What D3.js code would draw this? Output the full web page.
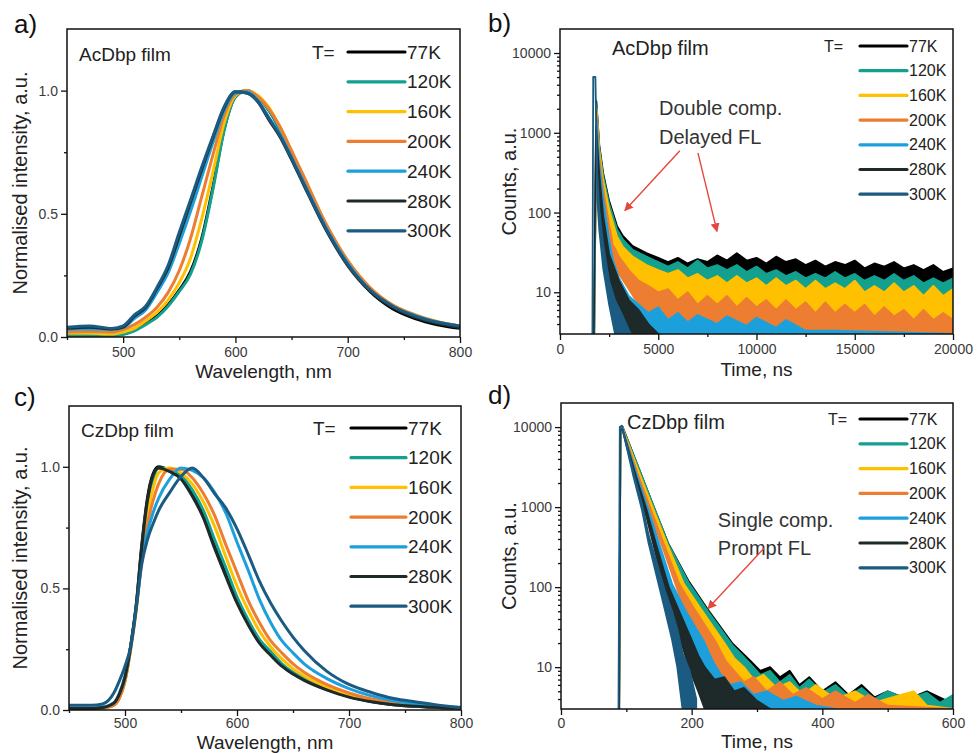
<!DOCTYPE html>
<html>
<head>
<meta charset="utf-8">
<script src="https://cdn.jsdelivr.net/npm/d3@7"></script>
<style>
  body { margin: 0; background: #fff; }
  svg { font-family: "Liberation Sans", Arial, sans-serif; }
</style>
</head>
<body>
<svg id="chart" width="978" height="753"></svg>
<script>
// Temperatures shared by every panel
const temps = ["77K", "120K", "160K", "200K", "240K", "280K", "300K"];
const tempColors = ["#000000", "#13a08f", "#ffc000", "#ed7d31", "#1ca0dc", "#1e2a2a", "#1b5b82"];

// a) AcDbp film PL spectra (wavelength nm -> normalised intensity)
const wlA = [450, 470, 490, 500, 510, 520, 530, 540, 550, 560, 570, 580, 590, 600, 610, 620, 630, 640, 650, 660, 680, 700, 720, 740, 760, 780, 800];
const acSpec77 = [0.01, 0.01, 0.008, 0.012, 0.028, 0.055, 0.085, 0.13, 0.19, 0.265, 0.40, 0.61, 0.845, 0.975, 1.0, 0.975, 0.92, 0.84, 0.745, 0.65, 0.455, 0.30, 0.185, 0.115, 0.075, 0.05, 0.035];
const acSpec120 = [0.005, 0.005, 0.005, 0.01, 0.025, 0.05, 0.08, 0.125, 0.185, 0.255, 0.39, 0.60, 0.84, 0.975, 1.0, 0.975, 0.92, 0.84, 0.745, 0.655, 0.46, 0.305, 0.195, 0.128, 0.088, 0.058, 0.04];
const acSpec160 = [0.015, 0.015, 0.012, 0.02, 0.035, 0.065, 0.10, 0.15, 0.22, 0.32, 0.48, 0.67, 0.87, 0.98, 1.0, 0.98, 0.93, 0.85, 0.755, 0.66, 0.465, 0.31, 0.2, 0.13, 0.09, 0.062, 0.045];
const acSpec200 = [0.02, 0.022, 0.02, 0.03, 0.05, 0.08, 0.12, 0.18, 0.27, 0.40, 0.57, 0.74, 0.90, 0.985, 1.0, 0.975, 0.925, 0.85, 0.755, 0.66, 0.465, 0.31, 0.2, 0.13, 0.09, 0.062, 0.045];
const acSpec240 = [0.03, 0.032, 0.03, 0.038, 0.075, 0.11, 0.18, 0.26, 0.38, 0.51, 0.65, 0.79, 0.92, 0.99, 0.995, 0.96, 0.89, 0.82, 0.73, 0.635, 0.45, 0.30, 0.19, 0.125, 0.087, 0.06, 0.045];
const acSpec280 = [0.035, 0.04, 0.032, 0.04, 0.085, 0.12, 0.195, 0.28, 0.41, 0.545, 0.68, 0.81, 0.93, 0.995, 0.99, 0.955, 0.88, 0.81, 0.72, 0.625, 0.44, 0.29, 0.185, 0.12, 0.08, 0.055, 0.04];
const acSpec300 = [0.04, 0.045, 0.035, 0.045, 0.09, 0.125, 0.20, 0.29, 0.425, 0.556, 0.69, 0.815, 0.935, 0.995, 0.99, 0.955, 0.885, 0.815, 0.725, 0.63, 0.445, 0.295, 0.19, 0.125, 0.085, 0.06, 0.045];

// c) CzDbp film PL spectra
const wlC = [450, 470, 480, 490, 495, 500, 505, 510, 515, 520, 525, 530, 540, 550, 560, 570, 580, 590, 600, 610, 620, 630, 640, 650, 660, 680, 700, 720, 740, 760, 780, 800];
const czSpec77 = [0.005, 0.005, 0.008, 0.025, 0.06, 0.13, 0.26, 0.43, 0.68, 0.87, 0.97, 1.0, 0.985, 0.955, 0.89, 0.80, 0.675, 0.56, 0.445, 0.355, 0.28, 0.23, 0.185, 0.15, 0.125, 0.085, 0.055, 0.035, 0.022, 0.015, 0.01, 0.007];
const czSpec120 = [0.005, 0.005, 0.008, 0.02, 0.05, 0.12, 0.25, 0.42, 0.66, 0.85, 0.95, 0.995, 0.99, 0.965, 0.905, 0.82, 0.70, 0.585, 0.465, 0.37, 0.29, 0.24, 0.19, 0.155, 0.13, 0.088, 0.057, 0.037, 0.023, 0.016, 0.011, 0.008];
const czSpec160 = [0.005, 0.005, 0.008, 0.02, 0.05, 0.12, 0.25, 0.41, 0.63, 0.80, 0.91, 0.975, 0.995, 0.975, 0.93, 0.855, 0.755, 0.63, 0.51, 0.41, 0.325, 0.26, 0.21, 0.17, 0.14, 0.095, 0.062, 0.04, 0.026, 0.017, 0.011, 0.008];
const czSpec200 = [0.005, 0.005, 0.008, 0.02, 0.05, 0.12, 0.25, 0.41, 0.62, 0.76, 0.86, 0.93, 0.99, 0.99, 0.955, 0.89, 0.80, 0.68, 0.565, 0.45, 0.36, 0.285, 0.235, 0.19, 0.155, 0.105, 0.07, 0.045, 0.03, 0.02, 0.013, 0.009];
const czSpec240 = [0.008, 0.008, 0.012, 0.03, 0.07, 0.14, 0.26, 0.42, 0.62, 0.73, 0.81, 0.87, 0.95, 0.995, 0.985, 0.955, 0.895, 0.81, 0.69, 0.575, 0.455, 0.36, 0.285, 0.235, 0.19, 0.13, 0.088, 0.058, 0.038, 0.025, 0.016, 0.01];
const czSpec280 = [0.006, 0.006, 0.01, 0.028, 0.065, 0.135, 0.26, 0.43, 0.67, 0.86, 0.965, 0.995, 0.98, 0.95, 0.88, 0.79, 0.665, 0.55, 0.44, 0.35, 0.275, 0.225, 0.18, 0.148, 0.122, 0.083, 0.053, 0.034, 0.022, 0.015, 0.01, 0.007];
const czSpec300 = [0.02, 0.02, 0.025, 0.07, 0.12, 0.18, 0.26, 0.42, 0.60, 0.70, 0.765, 0.82, 0.895, 0.96, 0.995, 0.955, 0.89, 0.83, 0.745, 0.64, 0.53, 0.44, 0.365, 0.30, 0.245, 0.16, 0.105, 0.072, 0.047, 0.033, 0.02, 0.01];

// b) AcDbp film decays: [time ns, lower edge, upper edge] of the noisy trace
const acDecay77 = [[1740,3,3],[1850,2500,2500],[2000,500,700],[2200,220,310],[2500,100,140],[2900,50,68],[3200,38,51],[3700,28,38],[4400,22,31],[5000,20,27],[5500,19,24],[6000,19,27],[6500,18,23],[7000,18,26],[7500,17,24],[8000,17,29],[8500,17,25],[9000,16,31],[9500,16,25],[10000,16,27],[10500,16,23],[11000,15,28],[11500,15,24],[12000,15,26],[12500,15,22],[13000,15,25],[13500,14,21],[14000,14,24],[14500,14,22],[15000,14,25],[15500,14,20],[16000,14,23],[16500,13,21],[17000,13,24],[17500,13,20],[18000,13,22],[18500,13,19],[19000,13,22],[19500,12,18],[20000,12,20]];
const acDecay120 = [[1740,3,3],[1860,2200,2200],[2000,450,650],[2200,200,290],[2500,90,130],[2900,45,62],[3200,33,46],[3700,24,34],[4400,18,28],[5000,16,24],[5500,15,21],[6000,15,24],[6500,14,20],[7000,14,25],[7500,13,20],[8000,13,22],[8500,12,19],[9000,12,22],[9500,11,18],[10000,11,21],[10500,10,17],[11000,10,19],[11500,10,16],[12000,9,18],[12500,9,15],[13000,9,17],[13500,9,15],[14000,8,18],[14500,8,15],[15000,8,17],[15500,8,14],[16000,8,16],[16500,8,14],[17000,7,17],[17500,7,14],[18000,7,16],[18500,7,13],[19000,7,15],[19500,7,13],[20000,7,15]];
const acDecay160 = [[1740,3,3],[1860,2000,2000],[2000,400,600],[2200,180,250],[2500,75,110],[2900,33,50],[3200,24,37],[3700,16,28],[4400,11,22],[5000,9,19],[5500,8,17],[6000,7,19],[6500,7,15],[7000,6,17],[7500,6,14],[8000,6,16],[8500,5,13],[9000,5,16],[9500,5,13],[10000,5,15],[10500,4.5,12],[11000,4.5,15],[11500,4,12],[12000,4,14],[12500,4,11],[13000,3.5,14],[13500,3.5,11],[14000,3.5,13],[14500,3,11],[15000,3,14],[15500,3,10],[16000,3,12],[16500,3,10],[17000,3,13],[17500,3,10],[18000,3,12],[18500,3,9],[19000,3,12],[19500,3,9],[20000,3,11]];
const acDecay200 = [[1740,3,3],[1860,1800,1800],[2000,300,500],[2200,150,200],[2500,50,70],[2700,27,40],[3000,17,28],[3500,11,19],[4000,7,14],[4500,5.5,12],[5000,4.5,10],[5500,4,11],[6000,3,8],[6500,3,10],[7000,3,7],[7500,3,9],[8000,3,7],[8500,3,9],[9000,3,6.5],[9500,3,8.5],[10000,3,6.5],[10500,3,8],[11000,3,6],[11500,3,8],[12000,3,6],[12500,3,7.5],[13000,3,5.5],[13500,3,7.5],[14000,3,5.5],[14500,3,7],[15000,3,5.5],[15500,3,7],[16000,3,5],[16500,3,6.5],[17000,3,5],[17500,3,6],[18000,3,4.5],[18500,3,6],[19000,3,4.5],[19500,3,5.5],[20000,3,4.5]];
const acDecay240 = [[1740,3,3],[1850,1500,1500],[2000,250,400],[2200,100,150],[2500,30,45],[2700,15,25],[3000,8,15],[3500,5,9],[4000,3,7],[4500,3,5.5],[5000,3,6.5],[5500,3,4.5],[6000,3,5.5],[6500,3,4.2],[7000,3,5.2],[8000,3,4],[8500,3,5],[9500,3,3.8],[10000,3,4.8],[11000,3,3.6],[11500,3,4.5],[12500,3,3.3],[14000,3,3.3],[20000,3,3]];
const acDecay280 = [[1720,3,3],[1830,1200,1200],[2000,150,300],[2200,50,90],[2500,15,30],[3000,6,14],[3500,3,8],[4000,3,6],[4500,3,4],[5000,3,3]];
const acDecay300 = [[1650,3,3],[1690,5000,5000],[1800,5000,5000],[1900,150,300],[2000,60,110],[2200,20,40],[2500,7,14],[2800,3,8],[3200,3,5],[3600,3,3]];

// d) CzDbp film decays
const czDecay77 = [[89,3,3],[91,10000,10000],[94,10200,10200],[124,2100,2400],[144,800,920],[164,300,355],[195,95,120],[225,32,52],[262,11,20],[290,6,12],[305,5,9],[320,4,10],[335,3.5,7.5],[350,3,9],[365,3,6],[380,3,7.5],[400,3,5],[420,3,6.5],[440,3,4.5],[460,3,6],[480,3,4.2],[500,3,5],[530,3,4],[560,3,5],[600,3,3.5]];
const czDecay120 = [[89,3,3],[91,9800,9800],[94,10000,10000],[124,2000,2400],[144,780,920],[164,290,350],[195,90,115],[225,30,50],[262,10,19],[290,5,11],[305,4.5,8],[320,3.5,9],[335,3,6.5],[350,3,8],[365,3,5.5],[380,3,7],[400,3,4.8],[420,3,6],[440,3,4.3],[460,3,5.5],[480,3,4],[500,3,5],[530,3,4],[560,3,4.8],[580,3,3.6],[600,3,4.5]];
const czDecay160 = [[89,3,3],[91,9600,9600],[94,9800,9800],[122,2000,2400],[142,780,920],[162,290,355],[188,85,110],[215,30,52],[250,9,20],[265,6,13],[280,4,10],[295,3,7],[310,3,8],[330,3,5.5],[350,3,6.5],[370,3,4.5],[390,3,6],[420,3,4],[450,3,5],[480,3,3.6],[520,3,4.5],[540,3,5],[560,3,3.3],[600,3,3]];
const czDecay200 = [[89,3,3],[91,9500,9500],[94,9700,9700],[119,2000,2400],[138,780,920],[157,290,355],[181,80,110],[205,28,52],[238,9,20],[252,6,12],[265,3.5,9],[280,3,6.5],[295,3,7.5],[315,3,5],[335,3,6.5],[355,3,4.5],[375,3,5.5],[400,3,4],[420,3,5],[450,3,3.6],[470,3,4.5],[500,3,3.3],[600,3,3]];
const czDecay240 = [[89,3,3],[91,9300,9300],[94,9500,9500],[117,2000,2400],[134,760,920],[150,280,355],[170,80,110],[190,25,52],[220,8,20],[232,5,12],[245,3,8],[260,3,6],[275,3,6.5],[295,3,4.5],[315,3,5],[340,3,3.8],[360,3,4.3],[390,3,3.3],[420,3,3]];
const czDecay280 = [[89,3,3],[91,9200,9200],[94,9400,9400],[115,2000,2400],[131,740,920],[145,260,355],[165,60,100],[180,25,52],[200,8,22],[210,5,14],[220,3,10],[235,3,7],[250,3,7.5],[265,3,5],[280,3,5.5],[300,3,3.8],[320,3,3]];
const czDecay300 = [[88,3,3],[90,10000,10000],[93,10400,10400],[111,2400,2700],[124,920,1100],[134,355,450],[159,52,90],[170,22,50],[178,10,30],[186,3,15],[197,3,9],[207,3,4]];

// tick values
const wlTicks = [500, 600, 700, 800];
const wlMinor = [450, 550, 650, 750];
const intTicks = [0, 0.5, 1.0];
const intMinor = [0.25, 0.75];
const countTicks = [10, 100, 1000, 10000];
const timeTicksB = [0, 5000, 10000, 15000, 20000];
const timeMinorB = [2500, 7500, 12500, 17500];
const timeTicksD = [0, 200, 400, 600];
const timeMinorD = [100, 300, 500];

const svg = d3.select("#chart");
const red = "#e5483e";

svg.append("defs").append("marker")
  .attr("id", "arrow")
  .attr("viewBox", "0 0 10 10")
  .attr("refX", 9).attr("refY", 5)
  .attr("markerWidth", 9).attr("markerHeight", 9)
  .attr("markerUnits", "userSpaceOnUse")
  .attr("orient", "auto")
  .append("path").attr("d", "M0,0 L10,5 L0,10 Z").attr("fill", red);

function logMinor(lo, hi) {
  const out = [];
  for (let d = 0; d <= 4; d++) {
    for (let k = 2; k <= 9; k++) {
      const v = k * Math.pow(10, d);
      if (v > lo && v < hi) out.push(v);
    }
  }
  return out;
}

function drawPanel(p, idx) {
  const g = svg.append("g");
  const x = d3.scaleLinear().domain(p.xDomain).range([p.left, p.right]);
  const y = (p.log ? d3.scaleLog() : d3.scaleLinear()).domain(p.yDomain).range([p.bottom, p.top]);

  const clipId = "clip" + idx;
  svg.select("defs").append("clipPath").attr("id", clipId)
    .append("rect")
    .attr("x", p.left).attr("y", p.top)
    .attr("width", p.right - p.left).attr("height", p.bottom - p.top);

  const plot = g.append("g").attr("clip-path", `url(#${clipId})`);

  if (p.spectra) {
    const line = d3.line()
      .x((d, i) => x(p.wl[i]))
      .y(d => y(d))
      .curve(d3.curveMonotoneX);
    p.spectra.forEach((s, i) => {
      plot.append("path")
        .attr("d", line(s))
        .attr("fill", "none")
        .attr("stroke", tempColors[i])
        .attr("stroke-width", 3)
        .attr("stroke-linejoin", "round");
    });
  } else {
    const area = d3.area()
      .x(d => x(d[0]))
      .y0(d => y(d[1]))
      .y1(d => y(d[2]));
    p.decays.forEach((s, i) => {
      plot.append("path")
        .attr("d", area(s))
        .attr("fill", tempColors[i])
        .attr("stroke", tempColors[i])
        .attr("stroke-width", 1.8)
        .attr("stroke-linejoin", "round");
    });
  }

  // axes
  const fmtY = p.log ? d3.format("d") : d3.format(".1f");
  g.append("g").attr("transform", `translate(0,${p.bottom})`)
    .call(d3.axisBottom(x).tickValues(p.xTicks).tickSize(6).tickPadding(p.xPad).tickFormat(d3.format("d")));
  g.append("g").attr("transform", `translate(0,${p.bottom})`)
    .call(d3.axisBottom(x).tickValues(p.xMinor).tickSize(3).tickFormat(""));
  g.append("g").attr("transform", `translate(${p.left},0)`)
    .call(d3.axisLeft(y).tickValues(p.yTicks).tickSize(6).tickPadding(3).tickFormat(fmtY));
  g.append("g").attr("transform", `translate(${p.left},0)`)
    .call(d3.axisLeft(y).tickValues(p.yMinor).tickSize(3).tickFormat(""));

  g.selectAll(".domain").remove();
  g.selectAll(".tick line").attr("stroke", "#111").attr("stroke-width", 1.3);
  g.selectAll(".tick text").attr("fill", "#3a3a3a").style("font-size", "14px")
    .style("font-family", "'Liberation Sans', Arial, sans-serif");

  // frame
  g.append("rect")
    .attr("x", p.left).attr("y", p.top)
    .attr("width", p.right - p.left).attr("height", p.bottom - p.top)
    .attr("fill", "none").attr("stroke", "#111").attr("stroke-width", 1.5);

  // titles
  g.append("text").attr("x", p.labelX).attr("y", p.labelY)
    .style("font-size", "26px").attr("fill", "#111").text(p.label);
  g.append("text").attr("x", (p.left + p.right) / 2).attr("y", p.xTitleY)
    .attr("text-anchor", "middle").style("font-size", "19px").attr("fill", "#222").text(p.xTitle);
  g.append("text")
    .attr("transform", `translate(${p.yTitleX},${(p.top + p.bottom) / 2}) rotate(-90)`)
    .attr("text-anchor", "middle").style("font-size", "20px").attr("fill", "#222").text(p.yTitle);
  g.append("text").attr("x", p.nameX).attr("y", p.nameY)
    .style("font-size", p.nameSize + "px").attr("fill", "#222").text(p.name);

  // legend
  const lg = p.legend;
  g.append("text").attr("x", lg.tx).attr("y", lg.y0)
    .attr("dy", "0.35em").style("font-size", lg.size + "px").attr("fill", "#222").text("T=");
  temps.forEach((t, i) => {
    const ly = lg.y0 + i * lg.dy;
    g.append("line")
      .attr("x1", lg.x1).attr("x2", lg.x2).attr("y1", ly).attr("y2", ly)
      .attr("stroke", tempColors[i]).attr("stroke-width", 3.2).attr("stroke-linecap", "round");
    g.append("text").attr("x", lg.x2 + 2).attr("y", ly).attr("dy", "0.35em")
      .style("font-size", lg.size + "px").attr("fill", "#222").text(t);
  });

  // annotations (positions in data units)
  (p.notes || []).forEach(n => {
    g.append("text").attr("x", x(n.t)).attr("y", y(n.v))
      .style("font-size", "20px").attr("fill", "#333").text(n.text);
  });
  (p.arrows || []).forEach(a => {
    g.append("line")
      .attr("x1", x(a[0])).attr("y1", y(a[1]))
      .attr("x2", x(a[2])).attr("y2", y(a[3]))
      .attr("stroke", red).attr("stroke-width", 1.4)
      .attr("marker-end", "url(#arrow)");
  });
}

const panels = [
  {
    label: "a)", labelX: 14, labelY: 33,
    left: 67, right: 460, top: 29, bottom: 337,
    xDomain: [450, 800], yDomain: [0, 1.25],
    xTicks: wlTicks, xMinor: wlMinor, yTicks: intTicks, yMinor: intMinor, xPad: 4,
    wl: wlA, spectra: [acSpec77, acSpec120, acSpec160, acSpec200, acSpec240, acSpec280, acSpec300],
    xTitle: "Wavelength, nm", xTitleY: 378, yTitle: "Normalised intensity, a.u.", yTitleX: 27,
    name: "AcDbp film", nameX: 79, nameY: 61, nameSize: 19,
    legend: { tx: 312, y0: 52, dy: 29.8, x1: 348, x2: 405, size: 19 }
  },
  {
    label: "b)", labelX: 488, labelY: 32,
    left: 560, right: 953, top: 29, bottom: 334, log: true,
    xDomain: [0, 20000], yDomain: [3, 20000],
    xTicks: timeTicksB, xMinor: timeMinorB, yTicks: countTicks, yMinor: logMinor(3, 20000), xPad: 4,
    decays: [acDecay77, acDecay120, acDecay160, acDecay200, acDecay240, acDecay280, acDecay300],
    xTitle: "Time, ns", xTitleY: 376, yTitle: "Counts, a.u.", yTitleX: 516,
    name: "AcDbp film", nameX: 612, nameY: 55, nameSize: 20,
    legend: { tx: 824, y0: 46, dy: 24.7, x1: 860, x2: 907, size: 16 },
    notes: [{ t: 5040, v: 1660, text: "Double comp." }, { t: 5040, v: 730, text: "Delayed FL" }],
    arrows: [[6100, 594, 3300, 106], [7020, 561, 7990, 58]]
  },
  {
    label: "c)", labelX: 14, labelY: 406,
    left: 69, right: 461, top: 406, bottom: 710,
    xDomain: [450, 800], yDomain: [0, 1.25],
    xTicks: wlTicks, xMinor: wlMinor, yTicks: intTicks, yMinor: intMinor, xPad: 2,
    wl: wlC, spectra: [czSpec77, czSpec120, czSpec160, czSpec200, czSpec240, czSpec280, czSpec300],
    xTitle: "Wavelength, nm", xTitleY: 748.5, yTitle: "Normalised intensity, a.u.", yTitleX: 27,
    name: "CzDbp film", nameX: 81, nameY: 437, nameSize: 19,
    legend: { tx: 313, y0: 428, dy: 29.7, x1: 351, x2: 406, size: 19 }
  },
  {
    label: "d)", labelX: 488, labelY: 404,
    left: 561, right: 953, top: 403, bottom: 709, log: true,
    xDomain: [0, 600], yDomain: [3, 20000],
    xTicks: timeTicksD, xMinor: timeMinorD, yTicks: countTicks, yMinor: logMinor(3, 20000), xPad: 3,
    decays: [czDecay77, czDecay120, czDecay160, czDecay200, czDecay240, czDecay280, czDecay300],
    xTitle: "Time, ns", xTitleY: 748, yTitle: "Counts, a.u.", yTitleX: 516,
    name: "CzDbp film", nameX: 627, nameY: 429, nameSize: 20,
    legend: { tx: 828, y0: 419, dy: 24.8, x1: 860, x2: 907, size: 16 },
    notes: [{ t: 240, v: 560, text: "Single comp." }, { t: 240, v: 250, text: "Prompt FL" }],
    arrows: [[311, 309, 225, 54]]
  }
];

panels.forEach((p, i) => drawPanel(p, i));
</script>
</body>
</html>
